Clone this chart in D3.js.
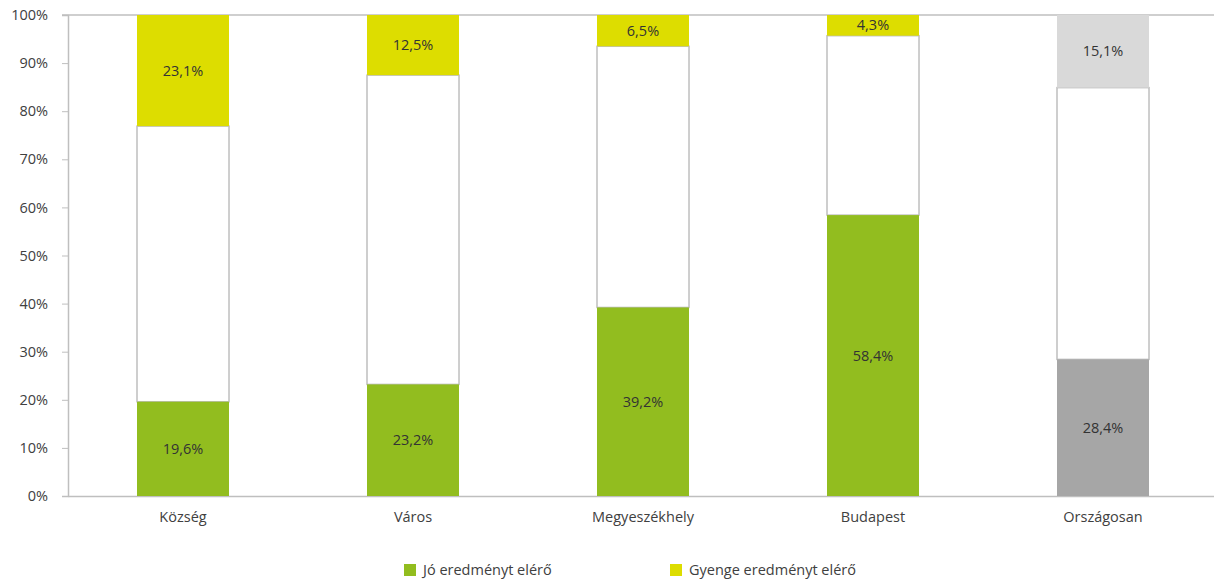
<!DOCTYPE html>
<html>
<head>
<meta charset="utf-8">
<script src="https://cdn.jsdelivr.net/npm/d3@7"></script>
<style>
  body { margin: 0; background: #fff; }
  text { font-family: "Open Sans", "Noto Sans", sans-serif; }
</style>
</head>
<body>
<svg id="chart" width="1214" height="582"></svg>
<script>
const categories = ["Község", "Város", "Megyeszékhely", "Budapest", "Országosan"];
const goodValues = [19.6, 23.2, 39.2, 58.4, 28.4];
const weakValues = [23.1, 12.5, 6.5, 4.3, 15.1];
const yTicks = [0, 10, 20, 30, 40, 50, 60, 70, 80, 90, 100];
const legendLabels = ["Jó eredményt elérő", "Gyenge eredményt elérő"];

const svg = d3.select("#chart");
const margin = {left: 68, right: -4, top: 15, bottom: 86};
const width = 1214 - margin.left - margin.right;
const height = 582 - margin.top - margin.bottom;
const axisColor = "#bfbfbf";
const fontSize = "14.5px";

const x = d3.scaleBand().domain(categories).range([0, width]).paddingInner(0.6).paddingOuter(0.3);
const y = d3.scaleLinear().domain([0, 100]).range([height, 0]);

const g = svg.append("g").attr("transform", "translate(" + margin.left + "," + margin.top + ")");

// top line
g.append("line")
    .attr("x1", -6).attr("x2", width)
    .attr("y1", y(100)).attr("y2", y(100))
    .attr("stroke", axisColor).attr("stroke-width", 1.5);

// y axis
const yAxis = g.append("g")
    .call(d3.axisLeft(y).tickValues(yTicks).tickSize(6).tickFormat(d => d + "%"));
yAxis.select(".domain").attr("stroke", axisColor).attr("stroke-width", 1.5);
yAxis.selectAll(".tick line").attr("stroke", axisColor);
yAxis.selectAll(".tick text")
    .attr("x", -20)
    .attr("fill", "#404040")
    .style("font-size", fontSize);

// x axis
const xAxis = g.append("g")
    .attr("transform", "translate(0," + height + ")")
    .call(d3.axisBottom(x).tickSize(0));
xAxis.select(".domain").attr("stroke", axisColor).attr("stroke-width", 1.5);
xAxis.selectAll(".tick text")
    .attr("dy", "1.6em")
    .attr("fill", "#404040")
    .style("font-size", fontSize);

const rows = categories.map(function(c, i){
    const last = i === categories.length - 1;
    return {
        cat: c,
        good: goodValues[i],
        weak: weakValues[i],
        goodColor: last ? "#a6a6a6" : "#92bd1f",
        weakColor: last ? "#d9d9d9" : "#dddd00"
    };
});

const bars = g.append("g").selectAll("g").data(rows).join("g")
    .attr("transform", d => "translate(" + x(d.cat) + ",0)");

// middle white segment
bars.append("rect")
    .attr("x", 0).attr("width", x.bandwidth())
    .attr("y", d => y(100 - d.weak))
    .attr("height", d => y(d.good) - y(100 - d.weak))
    .attr("fill", "#fff")
    .attr("stroke", axisColor).attr("stroke-width", 1.5);

// good segment
bars.append("rect")
    .attr("x", 0).attr("width", x.bandwidth())
    .attr("y", d => y(d.good))
    .attr("height", d => y(0) - y(d.good))
    .attr("fill", d => d.goodColor);

// weak segment
bars.append("rect")
    .attr("x", 0).attr("width", x.bandwidth())
    .attr("y", y(100))
    .attr("height", d => y(100 - d.weak) - y(100))
    .attr("fill", d => d.weakColor);

const fmt = v => v.toFixed(1).replace(".", ",") + "%";

bars.append("text")
    .attr("x", x.bandwidth() / 2)
    .attr("y", d => y(d.good / 2))
    .attr("dy", "0.35em")
    .attr("text-anchor", "middle")
    .attr("fill", "#333")
    .style("font-size", fontSize)
    .text(d => fmt(d.good));

bars.append("text")
    .attr("x", x.bandwidth() / 2)
    .attr("y", d => y(100 - d.weak / 2))
    .attr("dy", "0.35em")
    .attr("text-anchor", "middle")
    .attr("fill", "#333")
    .style("font-size", fontSize)
    .text(d => fmt(d.weak));

// legend
const legendColors = ["#92bd1f", "#dddd00"];
const legendX = [404, 670];
const legend = svg.append("g").selectAll("g").data(legendLabels).join("g")
    .attr("transform", (d, i) => "translate(" + legendX[i] + ",564)");
legend.append("rect")
    .attr("width", 12).attr("height", 12)
    .attr("fill", (d, i) => legendColors[i]);
legend.append("text")
    .attr("x", 19).attr("y", 6).attr("dy", "0.35em")
    .attr("fill", "#404040")
    .style("font-size", fontSize)
    .text(d => d);
</script>
</body>
</html>
